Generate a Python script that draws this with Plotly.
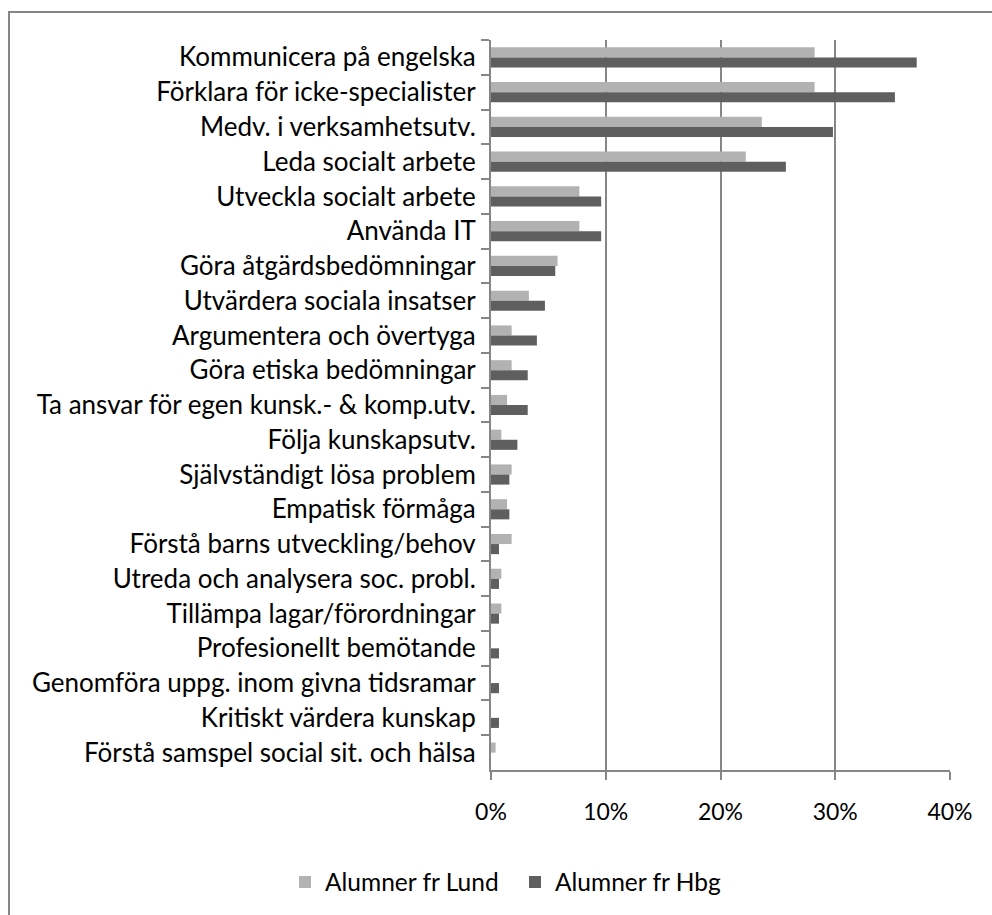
import plotly.graph_objects as go

categories = [
    "Kommunicera på engelska",
    "Förklara för icke-specialister",
    "Medv. i verksamhetsutv.",
    "Leda socialt arbete",
    "Utveckla socialt arbete",
    "Använda IT",
    "Göra åtgärdsbedömningar",
    "Utvärdera sociala insatser",
    "Argumentera och övertyga",
    "Göra etiska bedömningar",
    "Ta ansvar för egen kunsk.- & komp.utv.",
    "Följa kunskapsutv.",
    "Självständigt lösa problem",
    "Empatisk förmåga",
    "Förstå barns utveckling/behov",
    "Utreda och analysera soc. probl.",
    "Tillämpa lagar/förordningar",
    "Profesionellt bemötande",
    "Genomföra uppg. inom givna tidsramar",
    "Kritiskt värdera kunskap",
    "Förstå samspel social sit. och hälsa",
]
lund = [0.282, 0.282, 0.236, 0.222, 0.077, 0.077, 0.058, 0.033, 0.018, 0.018,
        0.014, 0.009, 0.018, 0.014, 0.018, 0.009, 0.009, 0.0, 0.0, 0.0, 0.004]
hbg = [0.371, 0.352, 0.298, 0.257, 0.096, 0.096, 0.056, 0.047, 0.040, 0.032,
       0.032, 0.023, 0.016, 0.016, 0.007, 0.007, 0.007, 0.007, 0.007, 0.007, 0.0]
series_names = ["Alumner fr Lund", "Alumner fr Hbg"]
x_ticks = [0, 0.1, 0.2, 0.3, 0.4]
x_ticklabels = ["0%", "10%", "20%", "30%", "40%"]

FONT = "Lato, Carlito, Calibri, sans-serif"
GRID = "#868686"

L, R, T, B = 491, 42, 40, 145
W, H = 992, 915
pw, ph = W - L - R, H - T - B

fig = go.Figure()
fig.add_trace(go.Bar(y=categories, x=lund, orientation="h", name=series_names[0],
                     legend="legend",
                     marker=dict(color="#b2b2b2", line=dict(width=0))))
fig.add_trace(go.Bar(y=categories, x=hbg, orientation="h", name=series_names[1],
                     legend="legend2",
                     marker=dict(color="#5f5f5f", line=dict(width=0))))

leg_y = (H - B - 882) / ph
leg_common = dict(orientation="h", xanchor="left", yanchor="middle", y=leg_y,
                  font=dict(family=FONT, size=24.5, color="#000000"),
                  itemwidth=30, bgcolor="rgba(0,0,0,0)", borderwidth=0)

fig.update_layout(
    width=W, height=H,
    margin=dict(l=L, r=R, t=T, b=B, pad=0, autoexpand=False),
    paper_bgcolor="white", plot_bgcolor="white",
    barmode="group", bargap=0.42, bargroupgap=0,
    font=dict(family=FONT, size=24, color="#000000"),
    showlegend=True,
    legend=dict(x=(285 - L) / pw, **leg_common),
    legend2=dict(x=(515 - L) / pw, **leg_common),
    xaxis=dict(range=[0, 0.4], tickvals=x_ticks, ticktext=x_ticklabels,
               automargin=False,
               showgrid=True, gridcolor=GRID, gridwidth=2,
               showline=True, linecolor=GRID, linewidth=2,
               ticks="outside", ticklen=8, tickcolor=GRID, tickwidth=2,
               ticklabelstandoff=12, zeroline=False,
               tickfont=dict(family=FONT, size=23, color="#000000")),
    yaxis=dict(autorange="reversed", type="category", automargin=False,
               showline=True, linecolor=GRID, linewidth=2,
               ticks="outside", ticklen=8, tickcolor=GRID, tickwidth=2,
               tickson="boundaries", showgrid=False, ticklabelstandoff=8,
               tickfont=dict(family=FONT, size=26, color="#000000")),
    shapes=[dict(type="rect", xref="paper", yref="paper",
                 x0=(9 - L) / pw, x1=(W + 20 - L) / pw,
                 y0=-(B + 20) / ph, y1=1 + (T - 12) / ph,
                 line=dict(color=GRID, width=2), fillcolor="rgba(0,0,0,0)",
                 layer="below")],
)

fig.write_html("out.html", config={"displayModeBar": False},
               post_script="document.body.style.margin='0px';")
